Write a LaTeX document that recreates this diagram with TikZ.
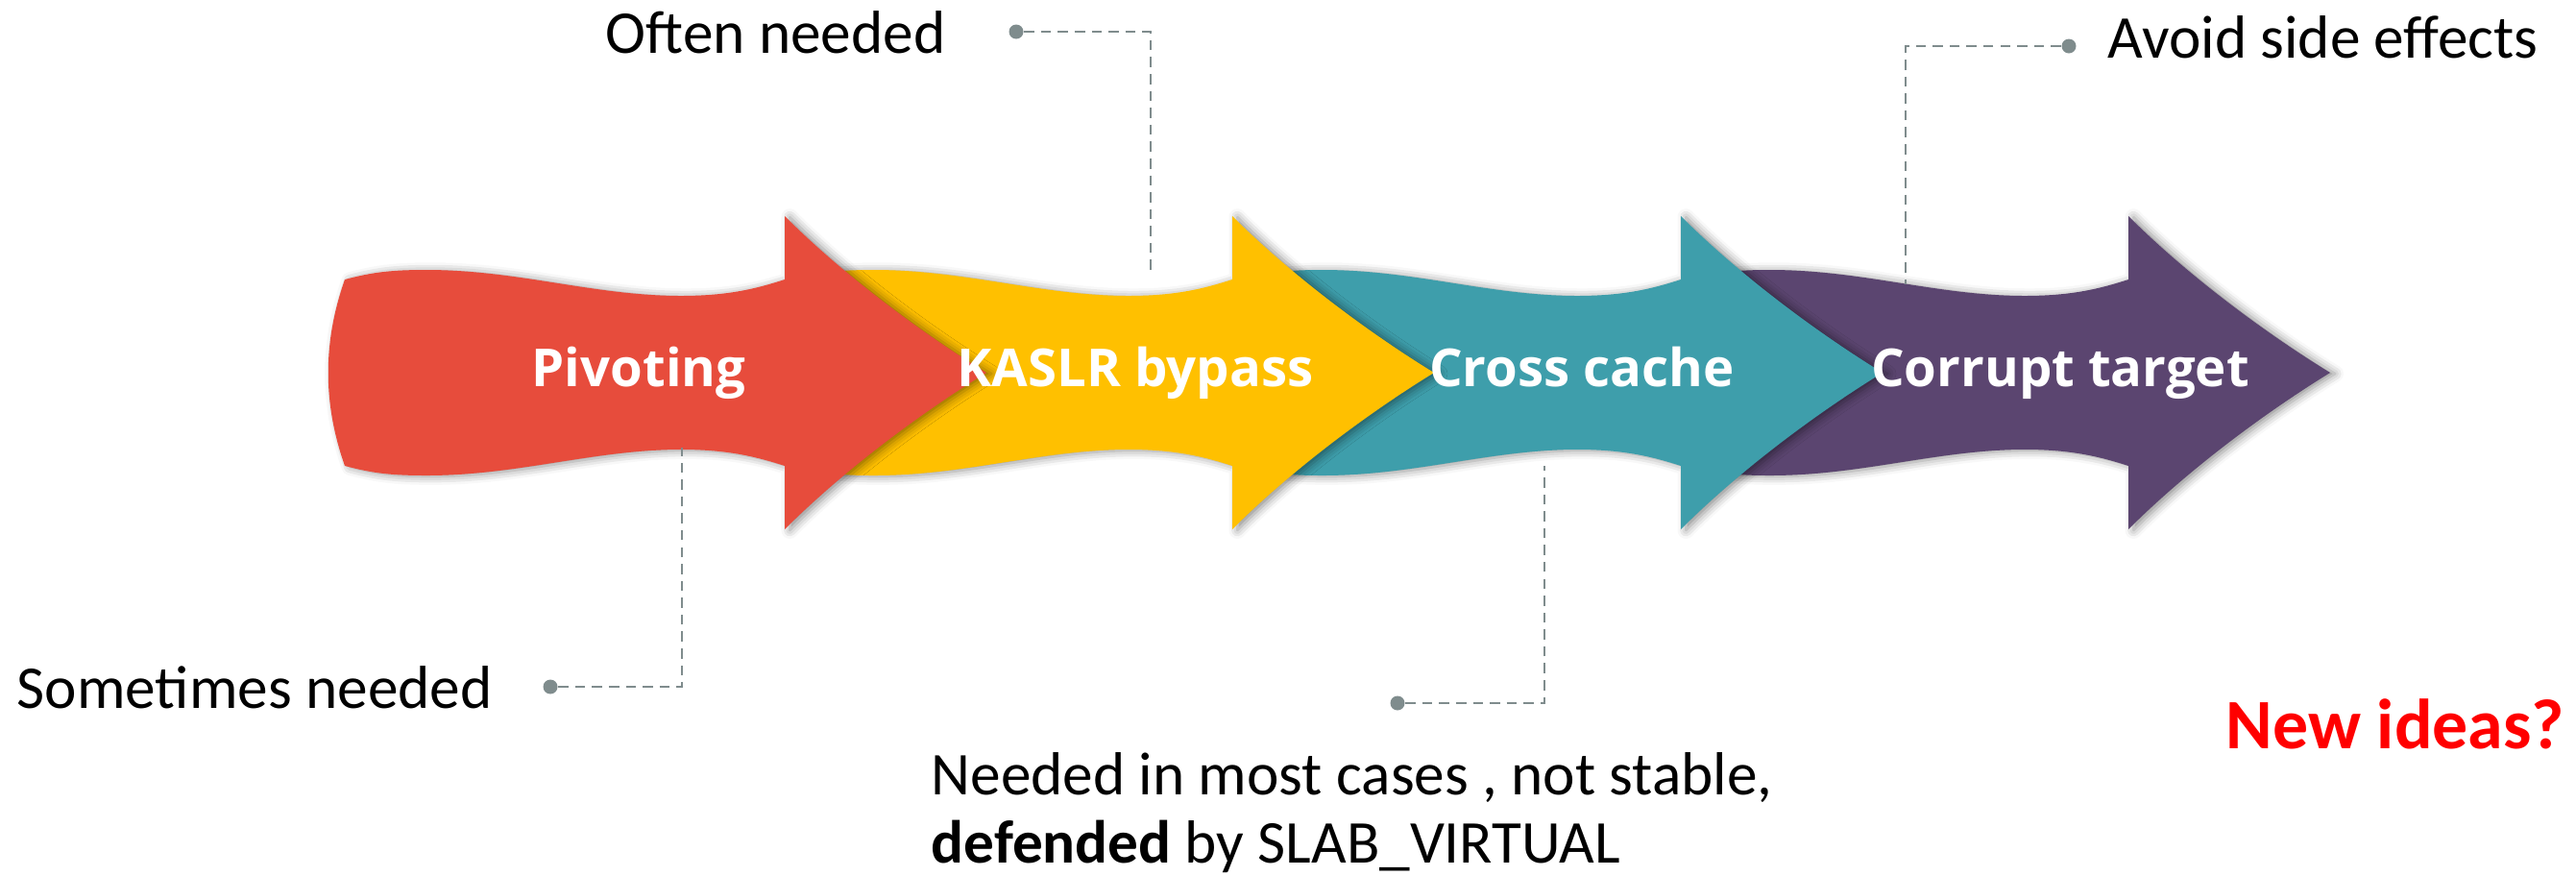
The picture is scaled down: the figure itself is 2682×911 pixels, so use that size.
\documentclass[tikz,border=0pt]{standalone}
\usepackage{fontspec}
\setmainfont{Carlito}
\newfontfamily\stagefont{Open Sans}
\usepackage{xcolor}
\usetikzlibrary{shadows.blur}
\definecolor{Pivoting}{HTML}{E74C3C}
\definecolor{KaslrBypass}{HTML}{FFC000}
\definecolor{CrossCache}{HTML}{3E9EAB}
\definecolor{CorruptTarget}{HTML}{5B4570}
\definecolor{Connector}{HTML}{7F8C8D}

\begin{document}
\begin{tikzpicture}[x=0.01cm, y=-0.01cm,
  note/.style={font=\fontsize{18}{20}\selectfont, inner sep=0pt},
  stage/.style={font=\stagefont\bfseries\fontsize{15.5}{18}\selectfont, text=white, inner sep=0pt},
  dot/.style={circle, fill=Connector, inner sep=0pt, minimum size=0.15cm},
  hint/.style={draw=Connector, line width=0.6pt, dash pattern=on 3pt off 2pt},
  wave/.style={blur shadow={shadow xshift=1.5pt, shadow yshift=-0.3pt, shadow blur radius=2.5pt, shadow opacity=45}}]
  \useasboundingbox (0,0) rectangle (2682,911);
  % wavy arrows, last stage first so each head lies on the next one
  \foreach \hx/\c in {2216/CorruptTarget, 1750/CrossCache, 1283/KaslrBypass, 817/Pivoting}
  {\fill[\c, wave] (\hx-458,291) .. controls (\hx-428,283) and (\hx-408,281) .. (\hx-373,281)
    .. controls (\hx-278,281) and (\hx-198,308) .. (\hx-108,308)
    .. controls (\hx-58,308) and (\hx-28,300) .. (\hx,291) -- (\hx,225)
    .. controls (\hx+60,285) and (\hx+140,345) .. (\hx+210,388)
    .. controls (\hx+140,431) and (\hx+60,491) .. (\hx,551) -- (\hx,485)
    .. controls (\hx-28,476) and (\hx-58,468) .. (\hx-108,468)
    .. controls (\hx-198,468) and (\hx-278,495) .. (\hx-373,495)
    .. controls (\hx-408,495) and (\hx-428,493) .. (\hx-458,485)
    .. controls (\hx-481,420) and (\hx-481,356) .. cycle;}
  % stage names go on top of all arrows
  \foreach \l/\lx/\n in {Pivoting/665/pivot, KASLR bypass/1182/kaslr,
  Cross cache/1647/cross, Corrupt target/2145/corrupt}
  {\node[stage, anchor=base] (\n) at (\lx,402) {\l};}
  % notes and their leaders
  \node[note, anchor=base east] (often) at (985,55) {Often needed};
  \node[dot] (oftenDot) at (1058,33) {};
  \coordinate (oftenEnd) at (1198,285);
  \draw[hint] (oftenDot) -| (oftenEnd);
  \node[note, anchor=base west] (avoid) at (2194,60) {Avoid side effects};
  \node[dot] (avoidDot) at (2154,48) {};
  \coordinate (avoidEnd) at (1984,296);
  \draw[hint] (avoidDot) -| (avoidEnd);
  \node[note, anchor=base west] (sometimes) at (17,737) {Sometimes needed};
  \node[dot] (sometimesDot) at (573,715) {};
  \coordinate (sometimesEnd) at (710,466);
  \draw[hint] (sometimesDot) -| (sometimesEnd);
  \node[note, anchor=base west] (mostcases) at (969,827) {Needed in most cases , not stable,};
  \node[note, anchor=base west] (defended) at (969,898) {\textbf{defended} by SLAB\_VIRTUAL};
  \node[dot] (mostcasesDot) at (1455,732) {};
  \coordinate (mostcasesEnd) at (1608,485);
  \draw[hint] (mostcasesDot) -| (mostcasesEnd);
  \node[note, font=\bfseries\fontsize{21}{24}\selectfont, text=red, anchor=base west] (ideas) at (2317,779) {New ideas?};
\end{tikzpicture}
\end{document}
